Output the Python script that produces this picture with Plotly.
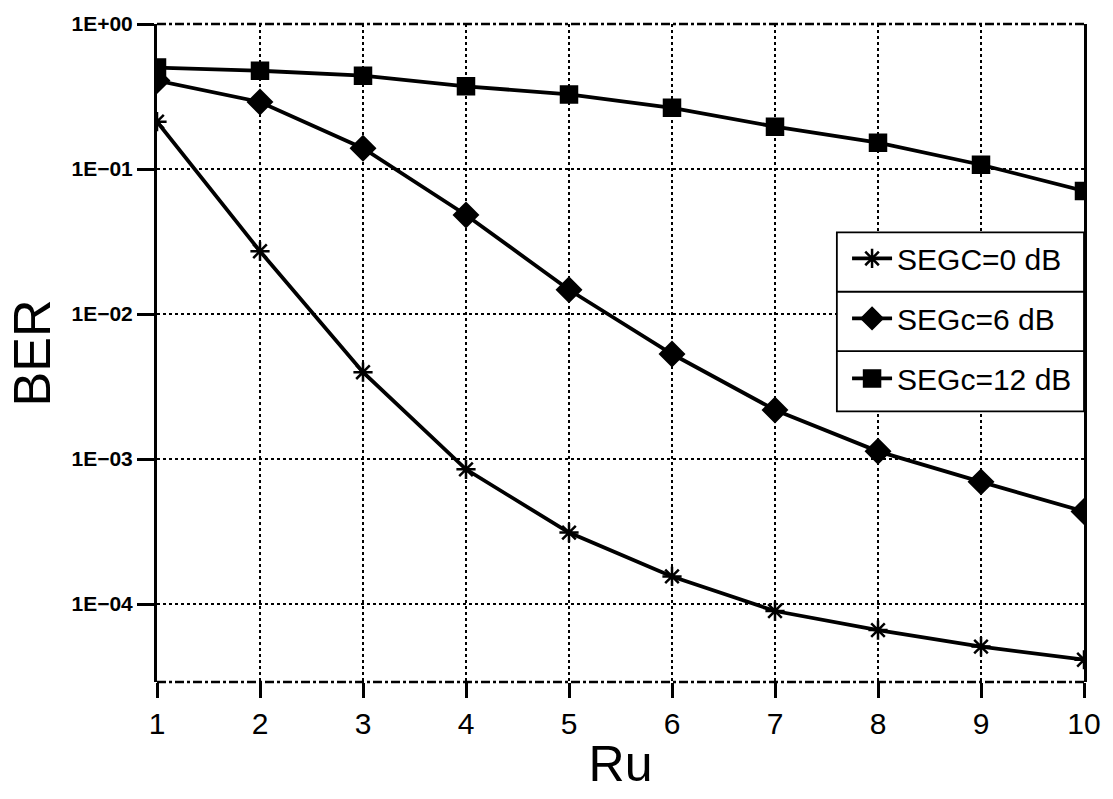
import math
import plotly.graph_objects as go

ru = [1, 2, 3, 4, 5, 6, 7, 8, 9, 10]
ber_segc0 = [0.212, 0.0271, 0.00397, 8.49e-4, 3.11e-4, 1.55e-4, 8.95e-5, 6.61e-5, 5.09e-5, 4.13e-5]
ber_segc6 = [0.407, 0.290, 0.139, 0.0482, 0.0147, 0.0053, 0.00218, 0.00113, 6.96e-4, 4.35e-4]
ber_segc12 = [0.501, 0.476, 0.440, 0.372, 0.327, 0.264, 0.196, 0.152, 0.107, 0.0706]
names = ["SEGC=0 dB", "SEGc=6 dB", "SEGc=12 dB"]
y_tickvals = [1, 0.1, 0.01, 0.001, 0.0001]
y_ticktext = ["1E+00", "1E\u221201", "1E\u221202", "1E\u221203", "1E\u221204"]
y_min = 2.9e-5

FONT = "Liberation Sans"
fig = go.Figure()
series = [(ber_segc0, names[0], "asterisk-open", 16),
          (ber_segc6, names[1], "diamond", 18),
          (ber_segc12, names[2], "square", 16)]
for i, (vals, nm, sym, sz) in enumerate(series):
    fig.add_trace(go.Scatter(
        x=ru, y=vals, name=nm, mode="lines+markers",
        legendgroup=str(i),
        line=dict(color="black", width=3.8),
        marker=dict(symbol=sym, size=sz, color="black",
                    line=dict(color="black", width=2.5)),
    ))

# legend box geometry (paper coords)
LX0, LX1 = 0.7334, 1.0
LY1, LY0 = 0.6832, 0.4114
SEPS = [0.5931, 0.503]

fig.update_layout(
    width=1113, height=799,
    margin=dict(l=157, r=22, t=16, b=117),
    paper_bgcolor="white", plot_bgcolor="white",
    font=dict(family=FONT, color="black"),
    showlegend=True,
    legend=dict(x=LX0 + 0.011, xanchor="left", y=LY1, yanchor="top",
                bgcolor="rgba(0,0,0,0)", borderwidth=0,
                font=dict(family=FONT, size=30, color="black"),
                itemwidth=40, tracegroupgap=18, traceorder="grouped"),
    xaxis=dict(range=[1, 10], tickvals=ru, ticktext=[str(v) for v in ru],
               showgrid=True, gridcolor="black", gridwidth=1.8, griddash="dot",
               ticks="outside", ticklen=15, tickwidth=2.5, tickcolor="black",
               tickfont=dict(family=FONT, size=30),
               showline=False, zeroline=False,
               title=dict(text="Ru", font=dict(family=FONT, size=50), standoff=6)),
    yaxis=dict(type="log", range=[math.log10(y_min), 0],
               tickvals=y_tickvals, ticktext=y_ticktext,
               showgrid=True, gridcolor="black", gridwidth=1.8, griddash="dot",
               ticks="outside", ticklen=17, tickwidth=2.5, tickcolor="black",
               tickfont=dict(family=FONT, size=21, weight="bold"),
               showline=True, linecolor="black", linewidth=3, mirror=True,
               zeroline=False,
               title=dict(text="BER", font=dict(family=FONT, size=52), standoff=5)),
)
# dash-dot top and bottom frame lines
for yy in (0, 1):
    fig.add_shape(type="line", xref="paper", yref="paper", x0=0, x1=1, y0=yy, y1=yy,
                  line=dict(color="black", width=2.5, dash="dashdot"))
# legend box and row separators
fig.add_shape(type="rect", xref="paper", yref="paper", x0=LX0, x1=LX1, y0=LY0, y1=LY1,
              fillcolor="white", line=dict(color="black", width=1.8), layer="above")
for yy in SEPS:
    fig.add_shape(type="line", xref="paper", yref="paper", x0=LX0, x1=LX1, y0=yy, y1=yy,
                  line=dict(color="black", width=1.8), layer="above")

fig.write_html("out.html")
